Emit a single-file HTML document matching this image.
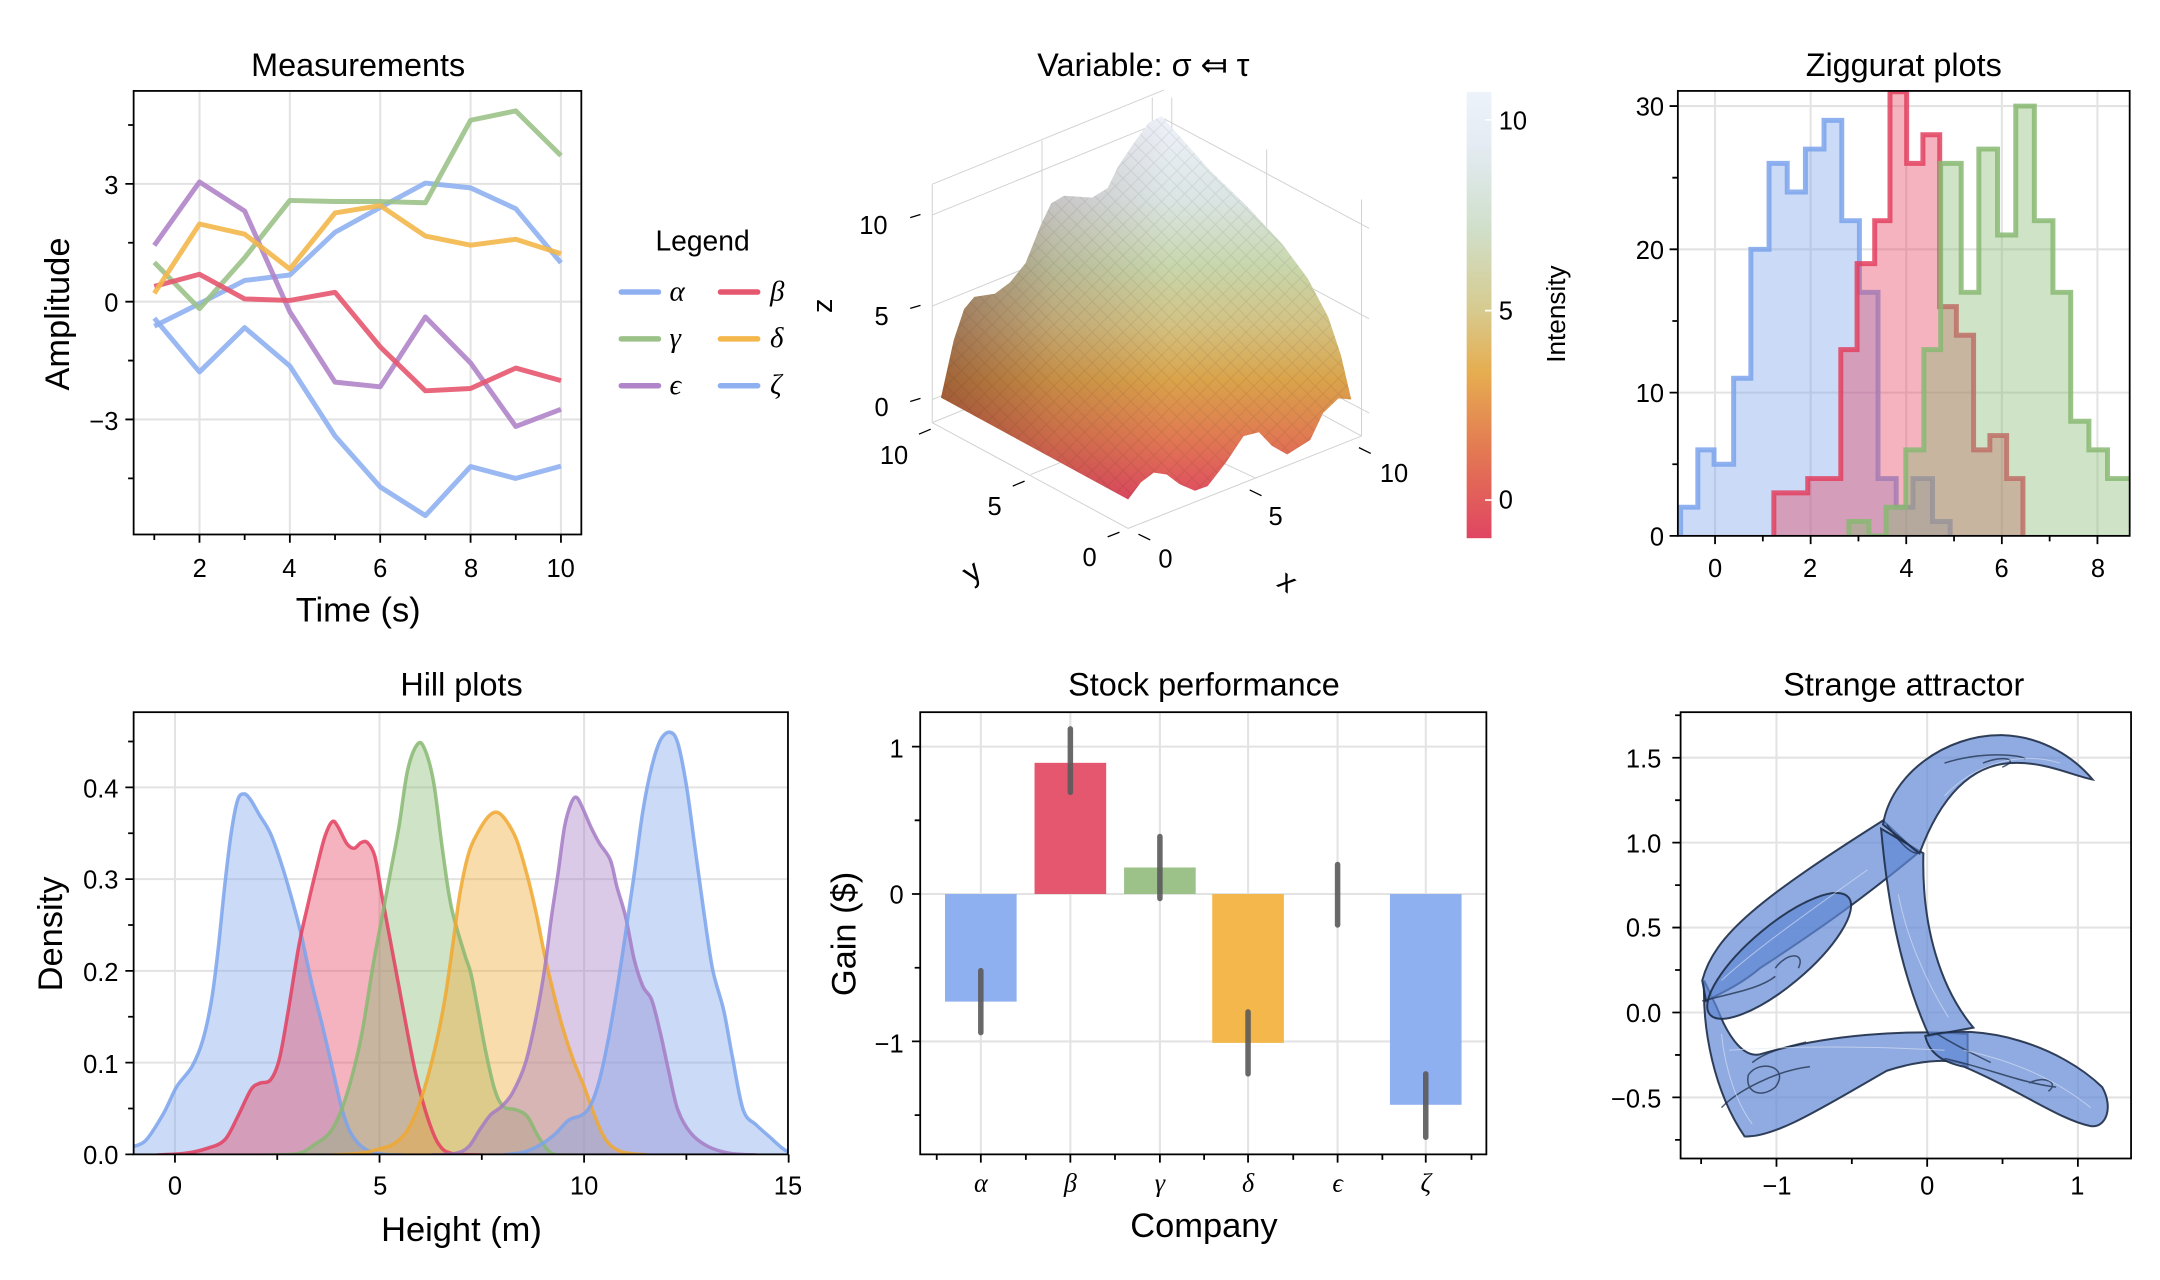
<!DOCTYPE html>
<html><head><meta charset="utf-8"><style>
html,body{margin:0;padding:0;background:#fff;}
svg{display:block;font-family:"Liberation Sans",sans-serif;}
.t{font-size:23.5px;text-anchor:middle;fill:#000}
.tk{font-size:18.5px;fill:#000}
.al{font-size:25px;text-anchor:middle;fill:#000}
</style></head><body>
<svg id="s" width="2160" height="1280" viewBox="0 0 1568 929.2" xmlns="http://www.w3.org/2000/svg">
<defs>
<clipPath id="c1"><rect x="97" y="66" width="325" height="322"/></clipPath>
<clipPath id="c3"><rect x="1218" y="66" width="328" height="323"/></clipPath>
<clipPath id="c4"><rect x="97" y="517" width="475" height="321"/></clipPath>
<clipPath id="c6"><rect x="1220" y="517" width="327" height="324"/></clipPath>
<linearGradient id="sg" gradientUnits="userSpaceOnUse" x1="0" y1="200" x2="0" y2="1180">
<stop offset="0" stop-color="#eef2fa"/><stop offset="0.22" stop-color="#dbe5e4"/><stop offset="0.4" stop-color="#c8d6ab"/><stop offset="0.55" stop-color="#d3c283"/><stop offset="0.7" stop-color="#daa34a"/><stop offset="0.85" stop-color="#e07a52"/><stop offset="1" stop-color="#e04e60"/></linearGradient>
<linearGradient id="sd" gradientUnits="userSpaceOnUse" x1="275" y1="0" x2="720" y2="0">
<stop offset="0" stop-color="#5a1420" stop-opacity="0.45"/><stop offset="0.5" stop-color="#5a1420" stop-opacity="0.15"/><stop offset="1" stop-color="#5a1420" stop-opacity="0"/></linearGradient>
<linearGradient id="cb" x1="0" y1="0" x2="0" y2="1">
<stop offset="0" stop-color="#eef3fb"/><stop offset="0.12" stop-color="#e4ebf3"/><stop offset="0.3" stop-color="#d0e0cc"/><stop offset="0.48" stop-color="#d6cc92"/><stop offset="0.63" stop-color="#e6ad50"/><stop offset="0.8" stop-color="#e37a52"/><stop offset="1" stop-color="#e04562"/></linearGradient>
<pattern id="mesh" patternUnits="userSpaceOnUse" width="30" height="40"><path d="M0,0L30,40M30,0L0,40" stroke="#000" stroke-opacity="0.08" stroke-width="2" fill="none"/></pattern>
</defs>
<rect width="1568" height="929.2" fill="#fff"/>
<g id="grid" stroke="#e3e3e3" stroke-width="1.5"></g>
<g id="data"></g>
<g id="axes" stroke="#000" stroke-width="1.3" fill="none"></g>

<!-- 3D surface -->
<g transform="translate(580.7,29) scale(0.3723,0.2792)">
<g stroke="#d2d2d2" stroke-width="1" fill="none">
<path vector-effect="non-scaling-stroke" d="M258,375L258,995M472,262L472,880M687,150L687,760M725,150L725,760M910,285L910,880M1095,415L1095,1030"/>
<path vector-effect="non-scaling-stroke" d="M258,455L710,210M258,692L710,447M258,935L710,690M258,375L710,130"/>
<path vector-effect="non-scaling-stroke" d="M710,205L1110,490M710,440L1110,725M710,690L1110,970"/>
<path vector-effect="non-scaling-stroke" d="M258,995L640,1270L1095,1030M258,995L710,750L1095,1030M450,1130L905,885M890,1140L470,880"/>
</g>
<path id="surf" d="M275,930L300,780L320,700L340,668L380,660L410,630L440,580L470,480L490,425L515,405L570,410L600,385L620,330L650,270L680,215L705,198L740,250L800,340L870,430L940,530L990,620L1030,720L1055,820L1075,935L1050,932L1020,970L995,1040L950,1078L920,1055L895,1020L865,1030L830,1100L795,1160L770,1172L740,1155L715,1130L690,1125L665,1150L640,1195Z" fill="url(#sg)"/>
<path d="M275,930L300,780L320,700L340,668L380,660L410,630L440,580L470,480L490,425L515,405L570,410L600,385L620,330L650,270L680,215L705,198L740,250L800,340L870,430L940,530L990,620L1030,720L1055,820L1075,935L1050,932L1020,970L995,1040L950,1078L920,1055L895,1020L865,1030L830,1100L795,1160L770,1172L740,1155L715,1130L690,1125L665,1150L640,1195Z" fill="url(#sd)"/>
<path d="M275,930L300,780L320,700L340,668L380,660L410,630L440,580L470,480L490,425L515,405L570,410L600,385L620,330L650,270L680,215L705,198L740,250L800,340L870,430L940,530L990,620L1030,720L1055,820L1075,935L1050,932L1020,970L995,1040L950,1078L920,1055L895,1020L865,1030L830,1100L795,1160L770,1172L740,1155L715,1130L690,1125L665,1150L640,1195Z" fill="url(#mesh)"/>
<g stroke="#000" stroke-width="1.3" fill="none">
<path vector-effect="non-scaling-stroke" d="M215,462L235,454M215,698L235,690M215,940L235,932M232,1025L255,1012M415,1160L438,1147M600,1292L623,1280M660,1285L683,1300M877,1170L900,1185M1090,1060L1113,1075"/>
</g>
</g>
<text class="tk" x="634" y="170" text-anchor="middle">10</text>
<text class="tk" x="640" y="236" text-anchor="middle">5</text>
<text class="tk" x="640" y="302" text-anchor="middle">0</text>
<text x="604" y="222" text-anchor="middle" transform="rotate(-90 604 222)" style="font-size:21px">z</text>
<text class="tk" x="649" y="337" text-anchor="middle">10</text>
<text class="tk" x="722" y="374" text-anchor="middle">5</text>
<text class="tk" x="791" y="411" text-anchor="middle">0</text>
<text class="tk" x="846" y="412" text-anchor="middle">0</text>
<text class="tk" x="926" y="381" text-anchor="middle">5</text>
<text class="tk" x="1012" y="350" text-anchor="middle">10</text>
<text x="706" y="422" text-anchor="middle" transform="rotate(-35 706 416)" style="font-size:22px">y</text>
<text x="934" y="429" text-anchor="middle" transform="rotate(35 934 423)" style="font-size:22px">x</text>
<rect x="1064.7" y="66.7" width="18" height="324" fill="url(#cb)"/>
<path d="M1078,87H1082.7M1078,225.5H1082.7M1078,363H1082.7" stroke="#fff" stroke-width="1.2"/>
<text class="tk" x="1088" y="94">10</text>
<text class="tk" x="1088" y="232">5</text>
<text class="tk" x="1088" y="369">0</text>
<text x="1136" y="228" text-anchor="middle" transform="rotate(-90 1136 228)" style="font-size:19px">Intensity</text>

<!-- attractor -->
<g clip-path="url(#c6)"><g transform="translate(1132.4,464.6) scale(0.2792,0.2978)" fill="#5f88d4" fill-opacity="0.7" stroke="#1e2d48" stroke-opacity="0.9">
<path vector-effect="non-scaling-stroke" stroke-width="2" d="M375,830C370,950 400,1100 480,1210C560,1215 700,1130 850,1050C950,1020 1030,1020 1060,1040L1060,960C900,950 700,960 520,1010C470,1020 430,950 410,900Z"/>
<path vector-effect="non-scaling-stroke" stroke-width="2" d="M370,830C400,720 520,630 840,440L930,520C800,620 700,690 520,800C470,840 420,860 380,880Z"/>
<ellipse vector-effect="non-scaling-stroke" stroke-width="2" cx="570" cy="770" rx="230" ry="75" transform="rotate(-38 570 770)"/>
<path vector-effect="non-scaling-stroke" stroke-width="2" d="M835,460C850,620 880,800 960,965L1075,945C990,850 940,700 945,520Z"/>
<path vector-effect="non-scaling-stroke" stroke-width="2" d="M840,450C860,330 1000,230 1150,232C1260,235 1340,290 1385,340C1330,330 1260,295 1170,300C1070,305 990,380 935,520Z"/>
<path vector-effect="non-scaling-stroke" stroke-width="2" d="M950,965C1100,930 1300,990 1410,1090C1440,1140 1420,1190 1380,1185C1300,1170 1200,1100 1050,1040C1000,1030 960,1010 950,965Z"/>
<g fill="none" stroke-width="1.5" stroke-opacity="0.75">
<path vector-effect="non-scaling-stroke" d="M370,880C450,860 520,850 560,820M500,1030C540,1000 600,990 640,980M850,450C880,490 910,520 930,520M1000,1020C1100,1040 1200,1080 1290,1090M1000,300C1100,270 1200,280 1210,290M980,960C1050,1000 1100,1020 1120,1030M420,1140C460,1100 560,1050 650,1040M490,1060C520,1020 600,1040 560,1090C520,1120 480,1100 490,1060M560,800C590,760 640,760 620,800M1220,1080C1260,1060 1300,1080 1270,1100M1100,300C1150,280 1200,290 1150,310"/>
</g>
<g fill="none" stroke="#dfe6f5" stroke-width="1" stroke-opacity="0.6">
<path vector-effect="non-scaling-stroke" d="M420,830C500,760 650,660 800,560M440,1000C600,990 800,990 1000,1000M880,620C900,720 950,830 1010,920M1000,380C1080,300 1200,270 1300,300M1050,1000C1200,1030 1300,1080 1380,1140M420,960C430,1050 460,1130 500,1180"/>
</g>
</g></g>

<!-- titles & labels -->
<text class="t" x="260" y="55">Measurements</text>
<text class="t" x="830" y="55">Variable: σ ⤆ τ</text>
<text class="t" x="1382" y="55">Ziggurat plots</text>
<text class="t" x="335" y="505">Hill plots</text>
<text class="t" x="874" y="505">Stock performance</text>
<text class="t" x="1382" y="505">Strange attractor</text>
<text class="al" x="260" y="451">Time (s)</text>
<text class="al" x="50" y="228" transform="rotate(-90 50 228)">Amplitude</text>
<text class="al" x="335" y="901">Height (m)</text>
<text class="al" x="45" y="678" transform="rotate(-90 45 678)">Density</text>
<text class="al" x="874" y="898">Company</text>
<text class="al" x="621" y="678" transform="rotate(-90 621 678)">Gain ($)</text>
<text x="510" y="182" text-anchor="middle" style="font-size:20.5px">Legend</text>
<g font-family="Liberation Serif, DejaVu Serif, serif" font-style="italic" font-size="21">
<text x="486" y="218">α</text><text x="559" y="218">β</text>
<text x="486" y="252">γ</text><text x="559" y="252">δ</text>
<text x="486" y="286">ϵ</text><text x="559" y="286">ζ</text>
</g>
<g stroke-width="4" stroke-linecap="round">
<path d="M451,212H478" stroke="#8fb0f0"/><path d="M523,212H550" stroke="#e5566f"/>
<path d="M451,246H478" stroke="#9cc28a"/><path d="M523,246H550" stroke="#f3b74b"/>
<path d="M451,280H478" stroke="#b184c9"/><path d="M523,280H550" stroke="#8fb0f0"/>
</g>
<!-- tick labels -->
<g class="tk" text-anchor="end">
<text x="86" y="141">3</text><text x="86" y="226">0</text><text x="86" y="312">−3</text>
<text x="1208" y="84">30</text><text x="1208" y="188">20</text><text x="1208" y="292">10</text><text x="1208" y="396">0</text>
<text x="86" y="579">0.4</text><text x="86" y="645">0.3</text><text x="86" y="712">0.2</text><text x="86" y="779">0.1</text><text x="86" y="845">0.0</text>
<text x="656" y="550">1</text><text x="656" y="656">0</text><text x="656" y="764">−1</text>
<text x="1206" y="557">1.5</text><text x="1206" y="619">1.0</text><text x="1206" y="680">0.5</text><text x="1206" y="742">0.0</text><text x="1206" y="804">−0.5</text>
</g>
<g class="tk" text-anchor="middle">
<text x="145" y="419">2</text><text x="210" y="419">4</text><text x="276" y="419">6</text><text x="342" y="419">8</text><text x="407" y="419">10</text>
<text x="1245" y="419">0</text><text x="1314" y="419">2</text><text x="1384" y="419">4</text><text x="1453" y="419">6</text><text x="1523" y="419">8</text>
<text x="127" y="867">0</text><text x="276" y="867">5</text><text x="424" y="867">10</text><text x="572" y="867">15</text>
<text x="1290" y="867">−1</text><text x="1399" y="867">0</text><text x="1508" y="867">1</text>
</g>
<g font-family="Liberation Serif, DejaVu Serif, serif" font-style="italic" font-size="19" text-anchor="middle">
<text x="712" y="865">α</text><text x="777" y="865">β</text><text x="842" y="865">γ</text><text x="906" y="865">δ</text><text x="971" y="865">ϵ</text><text x="1035" y="865">ζ</text>
</g>
</svg>
<script>
(function(){
var NS="http://www.w3.org/2000/svg";
function el(p,tag,a){var e=document.createElementNS(NS,tag);for(var k in a)e.setAttribute(k,a[k]);p.appendChild(e);return e;}
function P(pts){return 'M'+pts.map(function(p){return p[0].toFixed(1)+','+p[1].toFixed(1)}).join('L');}
function S(pts){var d='M'+pts[0][0]+','+pts[0][1];for(var i=0;i<pts.length-1;i++){var p0=pts[Math.max(0,i-1)],p1=pts[i],p2=pts[i+1],p3=pts[Math.min(pts.length-1,i+2)];
d+='C'+(p1[0]+(p2[0]-p0[0])/6).toFixed(1)+','+(p1[1]+(p2[1]-p0[1])/6).toFixed(1)+' '+(p2[0]-(p3[0]-p1[0])/6).toFixed(1)+','+(p2[1]-(p3[1]-p1[1])/6).toFixed(1)+' '+p2[0]+','+p2[1];}return d;}
var G=document.getElementById('grid'),D=document.getElementById('data'),A=document.getElementById('axes');
var gd='';
function box(x0,y0,x1,y1){el(A,'rect',{x:x0,y:y0,width:x1-x0,height:y1-y0});}
function ticks(list){var d='';list.forEach(function(t){d+='M'+t[0]+','+t[1]+'l'+t[2]+','+t[3];});el(A,'path',{d:d});}
var mx=function(t){return 112+(t-1)*32.8},my=function(v){return 219-v*28.5};
[2,4,6,8,10].forEach(function(t){gd+='M'+mx(t)+',66V388';});
[3,0,-3].forEach(function(v){gd+='M97,'+my(v)+'H422';});
var hx=function(v){return 1245+v*34.7},hy=function(c){return 389-c*10.4};
[0,2,4,6,8].forEach(function(v){gd+='M'+hx(v)+',66V389';});
[10,20,30].forEach(function(c){gd+='M1218,'+hy(c)+'H1546';});
var kx=function(v){return 127+v*29.7},ky=function(d){return 838-d*666};
[0,5,10].forEach(function(v){gd+='M'+kx(v)+',517V838';});
[0.1,0.2,0.3,0.4].forEach(function(d){gd+='M97,'+ky(d)+'H572';});
var sy=function(v){return 649-v*107};
[712,777,842,906,971,1035].forEach(function(x){gd+='M'+x+',517V838';});
[1,0,-1].forEach(function(v){gd+='M668,'+sy(v)+'H1079';});
var ax=function(v){return 1399+v*109.4},ay=function(v){return 735-v*123.3};
[-1,0,1].forEach(function(v){gd+='M'+ax(v)+',517V841';});
[1.5,1,0.5,0,-0.5].forEach(function(v){gd+='M1220,'+ay(v)+'H1547';});
el(G,'path',{d:gd});

var ser=[
['#8fb0f0',[-0.625,-0.05,0.54,0.68,1.77,2.4,3.02,2.9,2.37,0.99]],
['#9cc28a',[1.0,-0.18,1.12,2.58,2.55,2.55,2.52,4.62,4.86,3.72]],
['#b184c9',[1.43,3.05,2.31,-0.26,-2.05,-2.17,-0.39,-1.56,-3.18,-2.74]],
['#e5566f',[0.39,0.7,0.07,0.03,0.24,-1.15,-2.27,-2.21,-1.69,-2.01]],
['#f3b74b',[0.21,1.98,1.72,0.83,2.26,2.45,1.67,1.44,1.59,1.22]],
['#8fb0f0',[-0.42,-1.79,-0.66,-1.64,-3.42,-4.72,-5.45,-4.2,-4.5,-4.19]]];
var g1=el(D,'g',{'clip-path':'url(#c1)'});
ser.forEach(function(s){el(g1,'path',{d:P(s[1].map(function(v,i){return [mx(i+1),my(v)]})),fill:'none',stroke:s[0],'stroke-width':3.6,'stroke-linejoin':'round','stroke-opacity':0.9});});

function hist(edges,h){var pts=[[hx(edges[0]),hy(0)]];for(var i=0;i<h.length;i++){pts.push([hx(edges[i]),hy(h[i])]);pts.push([hx(edges[i+1]),hy(h[i])]);}pts.push([hx(edges[h.length]),hy(0)]);return pts;}
var g3=el(D,'g',{'clip-path':'url(#c3)'});
[[[-0.72,-0.36,-0.02,0.39,0.75,1.13,1.51,1.89,2.28,2.65,3.02,3.41,3.79,4.14,4.55,4.92],[2,6,5,11,20,26,24,27,29,22,17,4,2,4,1],'#7ba3ec'],
 [[1.23,1.58,1.94,2.63,2.97,3.34,3.66,4.01,4.35,4.70,5.05,5.41,5.75,6.10,6.44],[3,3,4,13,19,22,31,26,28,16,14,6,7,4],'#e3405f'],
 [[2.80,3.22,3.58,3.99,4.37,4.72,5.15,5.52,5.91,6.29,6.68,7.07,7.44,7.82,8.21,8.6,9.0],[1,0,2,6,13,26,17,27,21,30,22,17,8,6,4,4],'#88b872']
].forEach(function(s){var p=hist(s[0],s[1]);el(g3,'path',{d:P(p)+'Z',fill:s[2],'fill-opacity':0.4,stroke:'none'});el(g3,'path',{d:P(p),fill:'none',stroke:s[2],'stroke-width':3.6,'stroke-opacity':0.85});});

var g4o=el(D,'g',{'clip-path':'url(#c4)'});
var g4=el(g4o,'g',{transform:'translate(87.1,508.1) scale(0.3164,0.2420)'});
var curves=[
['#7ba3ec',[[30,1340],[60,1320],[100,1240],[130,1160],[165,1100],[190,1020],[210,900],[225,750],[240,560],[255,400],[270,300],[285,282],[300,300],[320,345],[345,400],[370,490],[395,600],[415,700],[440,850],[465,980],[490,1120],[510,1230],[530,1300],[560,1345],[600,1362],[650,1365]]],
['#e3405f',[[85,1365],[150,1360],[200,1345],[240,1320],[270,1250],[300,1170],[320,1150],[345,1140],[365,1080],[385,940],[410,740],[430,620],[450,510],[470,410],[487,365],[500,380],[520,430],[537,445],[553,428],[568,428],[585,470],[600,580],[620,720],[640,860],[660,1000],[680,1130],[705,1250],[730,1330],[760,1360],[830,1365]]],
['#88b872',[[340,1365],[410,1360],[450,1330],[480,1300],[505,1240],[530,1140],[555,1000],[580,800],[600,660],[620,520],[640,380],[660,210],[683,132],[700,150],[720,250],[740,450],[760,620],[790,760],[805,820],[820,920],[840,1060],[860,1170],[880,1220],[910,1230],[935,1250],[960,1310],[990,1360],[1030,1365]]],
['#f0a830',[[485,1365],[550,1360],[600,1345],[630,1330],[660,1290],[690,1200],[720,1060],[745,900],[765,720],[780,580],[800,460],[820,400],[845,350],[865,337],[885,360],[910,420],[935,530],[955,640],[975,770],[995,880],[1015,980],[1040,1080],[1065,1160],[1090,1250],[1115,1320],[1150,1355],[1210,1365]]],
['#a57bc4',[[715,1365],[770,1360],[800,1340],[825,1290],[850,1245],[875,1220],[900,1180],[930,1090],[955,950],[975,800],[990,650],[1005,520],[1020,380],[1035,310],[1047,292],[1060,320],[1080,380],[1100,430],[1125,480],[1140,560],[1160,650],[1180,780],[1200,860],[1220,900],[1240,1000],[1260,1120],[1280,1230],[1310,1300],[1350,1340],[1400,1360],[1460,1365]]],
['#7ba3ec',[[880,1365],[930,1355],[970,1330],[1000,1300],[1030,1260],[1060,1245],[1080,1215],[1100,1140],[1120,1020],[1140,870],[1160,700],[1180,520],[1200,330],[1220,200],[1240,120],[1262,97],[1280,130],[1300,260],[1320,450],[1340,640],[1360,810],[1385,930],[1405,1070],[1430,1230],[1460,1275],[1490,1310],[1520,1345],[1545,1365]]]];
curves.forEach(function(c){var p=c[1];el(g4,'path',{d:S(p)+'L'+p[p.length-1][0]+',1366L'+p[0][0]+',1366Z',fill:c[0],'fill-opacity':0.4});});
curves.forEach(function(c){el(g4,'path',{d:S(c[1]),fill:'none',stroke:c[0],'stroke-width':3.5,'stroke-opacity':0.85,'vector-effect':'non-scaling-stroke','stroke-linejoin':'round'});});

var bars=[[712,-0.73,'#8fb0f0',-0.52,-0.94],[777,0.89,'#e5566f',0.69,1.12],[842,0.18,'#9cc28a',-0.03,0.39],[906,-1.01,'#f3b74b',-0.8,-1.22],[971,0,'#b184c9',0.2,-0.21],[1035,-1.43,'#8fb0f0',-1.22,-1.65]];
bars.forEach(function(b){var y0=sy(0),y1=sy(b[1]);el(D,'rect',{x:b[0]-26,y:Math.min(y0,y1),width:52,height:Math.abs(y1-y0),fill:b[2]});});
bars.forEach(function(b){el(D,'path',{d:'M'+b[0]+','+sy(b[3])+'V'+sy(b[4]),stroke:'#5a5a5a','stroke-width':4,'stroke-linecap':'round','stroke-opacity':0.9});});

box(97,66,422,388);box(1218,66,1546,389);box(97,517,572,838);box(668,517,1079,838);box(1220,517,1547,841);
var t=[];
for(var i=1;i<=10;i++)t.push([mx(i),388,0,i%2?4:6]);
[4.5,3,1.5,0,-1.5,-3,-4.5].forEach(function(v){t.push([97,my(v),(v%3===0)?-6:-4,0]);});
for(var v=0;v<=8;v++)t.push([hx(v),389,0,v%2?4:6]);
for(var c=0;c<=30;c+=5)t.push([1218,hy(c),c%10?-4:-6,0]);
for(var v=0;v<=15;v+=2.5)t.push([kx(v),838,0,(v%5)?4:6]);
for(var d=0;d<=0.46;d+=0.05)t.push([97,ky(d),(Math.round(d*100)%10)?-4:-6,0]);
for(var k=0;k<7;k++)t.push([680+k*64.7,838,0,4]);
[712,777,842,906,971,1035].forEach(function(x){t.push([x,838,0,6]);});
[1,0.5,0,-0.5,-1,-1.5].forEach(function(v){t.push([668,sy(v),(v%1)?-4:-6,0]);});
[-1.5,-1,-0.5,0,0.5,1].forEach(function(v){t.push([ax(v),841,0,(v%1)?4:6]);});
for(var v=-0.75;v<=1.76;v+=0.25)t.push([1220,ay(v),(Math.abs(v*2%1)<0.01)?-6:-4,0]);
ticks(t);
})();
</script>
</body></html>
